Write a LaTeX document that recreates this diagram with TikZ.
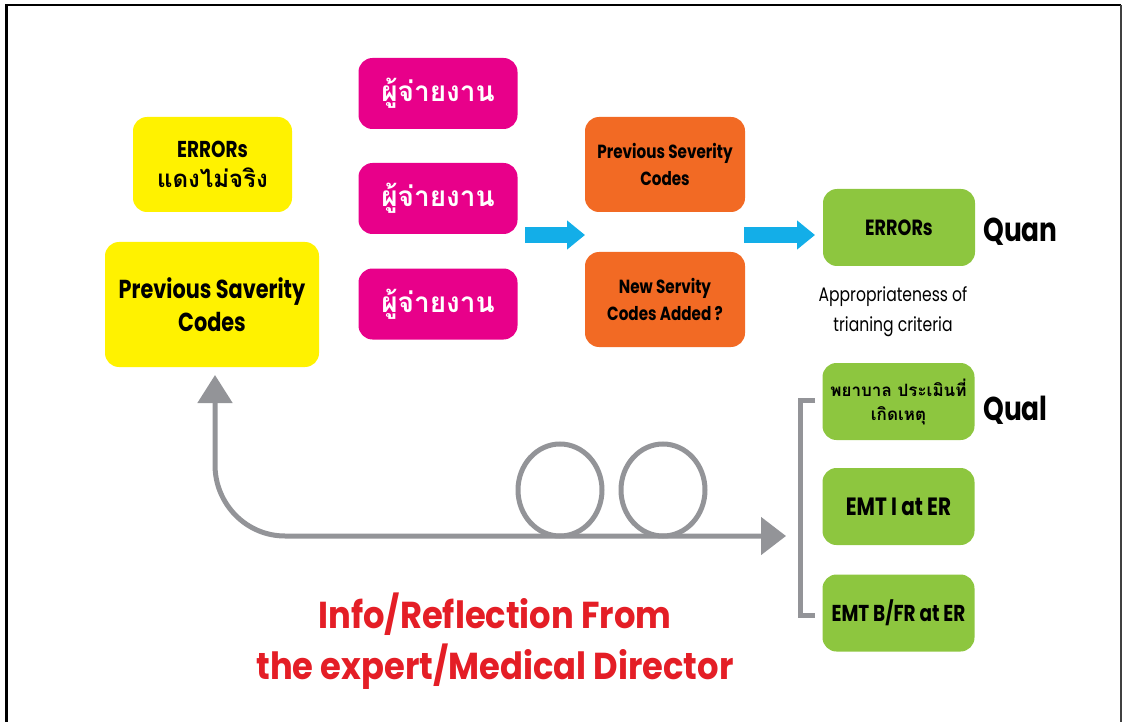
\documentclass[tikz,border=0pt]{standalone}
\usepackage{fontspec}
\usetikzlibrary{arrows.meta}
\setmainfont{Poppins}
\newfontfamily\lat[FakeStretch=0.8]{Poppins}
\newfontfamily\latwide[FakeStretch=0.9]{Poppins}
\newfontfamily\thai[Script=Thai]{Loma}

\definecolor{cYellow}{HTML}{FFF200}
\definecolor{cMagenta}{HTML}{E8008A}
\definecolor{cOrange}{HTML}{F26A24}
\definecolor{cGreen}{HTML}{8DC63F}
\definecolor{cBlue}{HTML}{13AEE8}
\definecolor{cGray}{HTML}{939498}
\definecolor{cRed}{HTML}{E41E26}

\newcommand{\fs}[2]{\fontsize{#1}{#2}\selectfont}

\tikzset{
  box/.style={rounded corners=14pt, inner sep=0pt, align=center, text=black},
  ybox/.style={box, fill=cYellow},
  mbox/.style={box, fill=cMagenta, text=white, minimum width=159pt, minimum height=71pt,
    font=\thai\bfseries\fs{28}{32}},
  obox/.style={box, fill=cOrange, minimum width=160pt, minimum height=95pt,
    font=\lat\bfseries\fs{19}{27}},
  gbox/.style={box, fill=cGreen, minimum width=152pt, minimum height=77pt},
  fatarrow/.style={draw=cBlue, line width=16pt,
    -{Triangle[length=18pt, width=28pt, fill=cBlue]}},
  loopline/.style={draw=cGray, line width=5pt},
  bracket/.style={draw=cGray, line width=5pt},
  lbl/.style={inner sep=0pt, align=center, text=black},
}

\begin{document}
\begin{tikzpicture}[x=1pt, y=-1pt]
\useasboundingbox (0,0) rectangle (1122,722);

% frame
\draw[line width=2.5pt, black] (6.5,730) -- (6.5,5) -- (1121,5);
\draw[line width=1.5pt, black!75] (1121,5) -- (1121,730);

% left column
\node[ybox, minimum width=159pt, minimum height=95pt, font=\lat\bfseries\fs{23}{30}]
  (err) at (212.5,164.5)
  {ERRORs\\{\thai\fs{24}{30}แดงไม่จริง}};
\node[ybox, minimum width=214pt, minimum height=125pt, font=\lat\bfseries\fs{26}{33}]
  (prev) at (212,304.5) {Previous Saverity\\Codes};

% reporters
\node[mbox] (rep1) at (438,93.5) {ผู้จ่ายงาน};
\node[mbox] (rep2) at (438,198.5) {ผู้จ่ายงาน};
\node[mbox] (rep3) at (438,304) {ผู้จ่ายงาน};

% severity codes
\node[obox] (psc) at (665,164.5) {Previous Severity\\Codes};
\node[obox] (nsc) at (665,299.5) {New Servity\\Codes Added ?};

% results
\node[gbox, font=\lat\bfseries\fs{22}{26}] (errs) at (899,227.5) {ERRORs};
\node[lbl, font=\lat\bfseries\fs{33}{36}, anchor=west] (quan) at (983,232) {Quan};
\node[lbl, font=\lat\fs{19.5}{30}] (appr) at (893,312) {Appropriateness of\\trianing criteria};

\node[gbox, font=\thai\bfseries\fs{17}{24}] (nurse) at (898.5,401.5)
  {พยาบาล ประเมินที่\\เกิดเหตุ};
\node[lbl, font=\lat\bfseries\fs{33}{36}, anchor=west] (qual) at (983,410) {Qual};
\node[gbox, font=\lat\bfseries\fs{25}{28}] (emti) at (898.5,506.5) {EMT I at ER};
\node[gbox, font=\lat\bfseries\fs{23}{26}] (emtb) at (898.5,613) {EMT B/FR at ER};

% flow arrows
\coordinate (a1s) at (525,235);
\coordinate (a1e) at (585,235);
\coordinate (a2s) at (744,235);
\coordinate (a2e) at (815,235);
\draw[fatarrow] (a1s) -- (a1e);
\draw[fatarrow] (a2s) -- (a2e);

% bracket grouping the qualitative sources
\coordinate (bt) at (815,400);
\coordinate (bb) at (815,615);
\draw[bracket] (bt) -- (800,400) -- (800,615) -- (bb);

% feedback loop back to the previous codes
\coordinate (up) at (215,375);
\coordinate (fwd) at (786,536);
\draw[loopline, {Triangle[length=28pt, width=34pt]}-{Triangle[length=25pt, width=37pt]}]
  (up) -- (215,465) to[out=-90, in=180] (285,536) -- (fwd);
\draw[loopline] (560,490) ellipse[x radius=42, y radius=46];
\draw[loopline] (663,490) ellipse[x radius=42, y radius=46];

% source note
\node[inner sep=0pt, align=center, text=cRed, font=\latwide\bfseries\fs{37.5}{51}] (note)
  at (495,641) {Info/Reflection From\\the expert/Medical Director};
\end{tikzpicture}
\end{document}
